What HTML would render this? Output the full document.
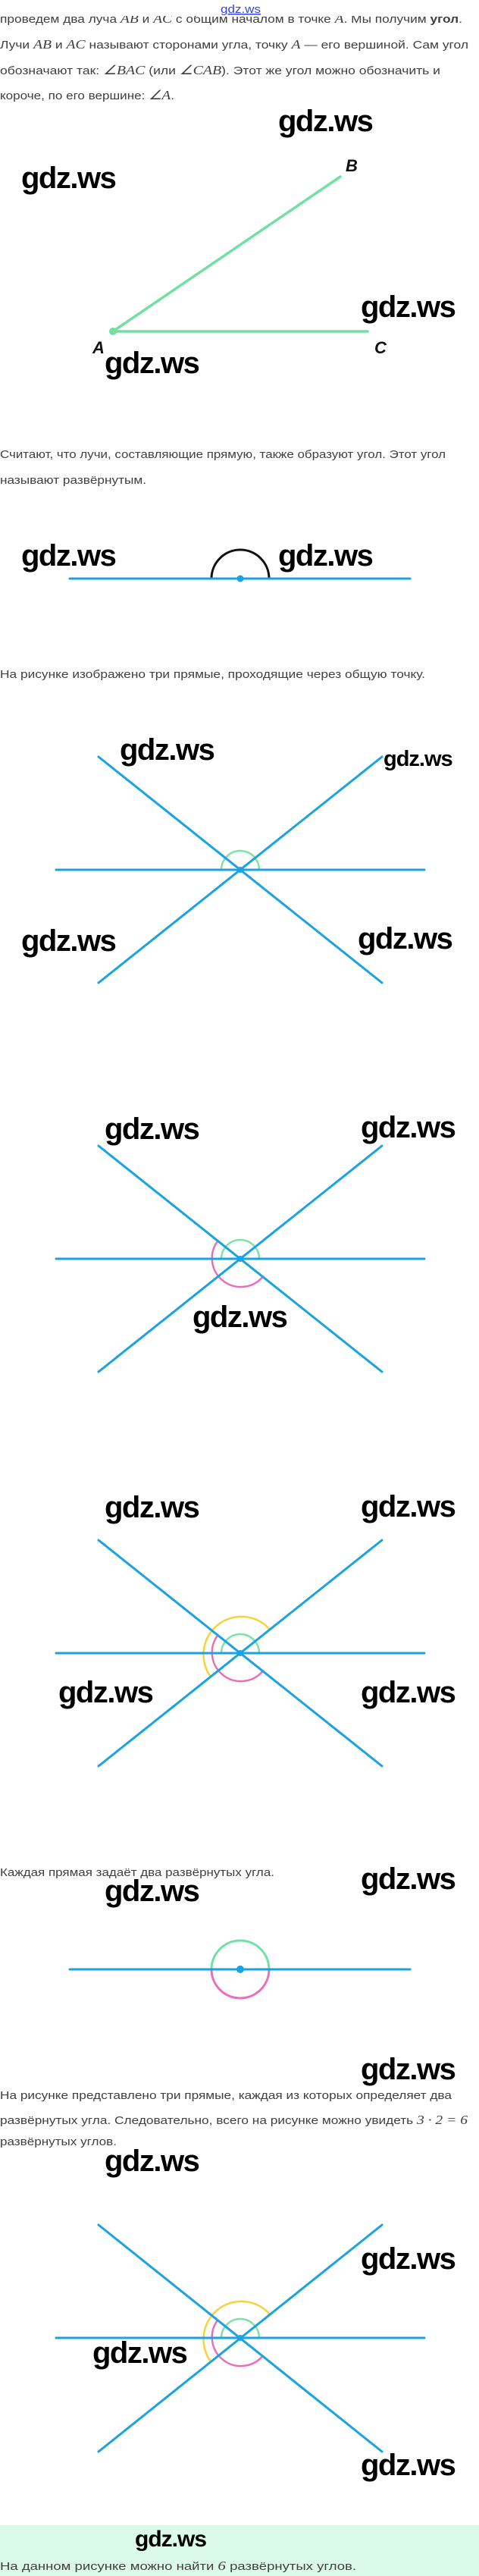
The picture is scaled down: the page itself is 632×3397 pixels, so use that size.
<!DOCTYPE html>
<html><head><meta charset="utf-8"><style>
html,body{margin:0;padding:0;background:#fff;}
svg{display:block;}
.t{font-family:"Liberation Sans",sans-serif;font-size:15px;fill:#404040;}
.m{font-family:"Liberation Serif",serif;font-style:italic;font-size:17px;}
.w{font-family:"Liberation Sans",sans-serif;font-weight:bold;font-size:40px;fill:#000;letter-spacing:-1.5px;}
.lb{font-family:"Liberation Sans",sans-serif;font-style:italic;font-weight:bold;font-size:22px;fill:#111;}
.bl{stroke:#1aa3e2;stroke-width:3;stroke-linecap:round;fill:none;}
</style></head><body>
<svg width="632" height="3397" viewBox="0 0 632 3397" xmlns="http://www.w3.org/2000/svg">
<rect width="632" height="3397" fill="#fff"/>
<text class="t" x="0" y="30" textLength="610" lengthAdjust="spacingAndGlyphs">проведем два луча <tspan class="m">AB</tspan> и <tspan class="m">AC</tspan> с общим началом в точке <tspan class="m">A</tspan>. Мы получим <tspan font-weight="bold">угол</tspan>.</text>
<rect x="0" y="0" width="632" height="21" fill="#fff"/>
<text x="291" y="17" font-family="Liberation Sans,sans-serif" font-size="15" fill="#3344dd" textLength="53" lengthAdjust="spacingAndGlyphs" text-decoration="underline">gdz.ws</text>
<text class="t" x="0" y="64" textLength="618" lengthAdjust="spacingAndGlyphs">Лучи <tspan class="m">AB</tspan> и <tspan class="m">AC</tspan> называют сторонами угла, точку <tspan class="m">A</tspan> — его вершиной. Сам угол</text>
<text class="t" x="0" y="98" textLength="581" lengthAdjust="spacingAndGlyphs">обозначают так: <tspan class="m">∠BAC</tspan> (или <tspan class="m">∠CAB</tspan>). Этот же угол можно обозначить и</text>
<text class="t" x="0" y="131" textLength="230" lengthAdjust="spacingAndGlyphs">короче, по его вершине: <tspan class="m">∠A</tspan>.</text>

<line x1="149" y1="437" x2="449" y2="233" stroke="#72e0a2" stroke-width="3.5" stroke-linecap="round"/>
<line x1="149" y1="437" x2="485" y2="437" stroke="#72e0a2" stroke-width="3.5" stroke-linecap="round"/>
<circle cx="149" cy="437" r="5" fill="#72e0a2"/>
<text class="lb" x="456" y="226">B</text>
<text class="lb" x="122" y="466">A</text>
<text class="lb" x="494" y="466">C</text>
<text class="w" x="367" y="173">gdz.ws</text>
<text class="w" x="28" y="248">gdz.ws</text>
<text class="w" x="476" y="418">gdz.ws</text>
<text class="w" x="138" y="492">gdz.ws</text>

<text class="t" x="0" y="604" textLength="588" lengthAdjust="spacingAndGlyphs">Считают, что лучи, составляющие прямую, также образуют угол. Этот угол</text>
<text class="t" x="0" y="638" textLength="193" lengthAdjust="spacingAndGlyphs">называют развёрнутым.</text>

<path d="M279 763 A38 38 0 0 1 355 763" stroke="#111" stroke-width="3" fill="none"/>
<line class="bl" x1="92" y1="763" x2="541" y2="763"/>
<circle cx="317" cy="763" r="4.5" fill="#1aa3e2"/>
<text class="w" x="28" y="746">gdz.ws</text>
<text class="w" x="367" y="746">gdz.ws</text>

<text class="t" x="0" y="894" textLength="561" lengthAdjust="spacingAndGlyphs">На рисунке изображено три прямые, проходящие через общую точку.</text>

<path d="M292 1147 A25 25 0 0 1 342 1147" stroke="#7de3a5" stroke-width="2.5" fill="none"/>
<line class="bl" x1="74" y1="1147" x2="560" y2="1147"/>
<line class="bl" x1="130" y1="998" x2="504" y2="1296"/>
<line class="bl" x1="130" y1="1296" x2="504" y2="998"/>
<circle cx="317" cy="1147" r="4" fill="#1aa3e2"/>
<text class="w" x="158" y="1002">gdz.ws</text>
<text class="w" x="506" y="1010" style="font-size:29px;letter-spacing:-1px">gdz.ws</text>
<text class="w" x="28" y="1254">gdz.ws</text>
<text class="w" x="472" y="1251">gdz.ws</text>

<path d="M292 1660 A25 25 0 0 1 342 1660" stroke="#7de3a5" stroke-width="2.5" fill="none"/>
<path d="M287.4 1636.2 A38 38 0 0 0 346.6 1683.8" stroke="#ec6fb5" stroke-width="2.5" fill="none"/>
<line class="bl" x1="74" y1="1660" x2="560" y2="1660"/>
<line class="bl" x1="130" y1="1511" x2="504" y2="1809"/>
<line class="bl" x1="130" y1="1809" x2="504" y2="1511"/>
<circle cx="317" cy="1660" r="4" fill="#1aa3e2"/>
<text class="w" x="138" y="1502">gdz.ws</text>
<text class="w" x="476" y="1500">gdz.ws</text>
<text class="w" x="254" y="1750">gdz.ws</text>

<path d="M292 2180 A25 25 0 0 1 342 2180" stroke="#7de3a5" stroke-width="2.5" fill="none"/>
<path d="M287.4 2156.2 A38 38 0 0 0 346.6 2203.8" stroke="#ec6fb5" stroke-width="2.5" fill="none"/>
<path d="M356 2148.8 A50 50 0 0 0 278 2211.2" stroke="#f5d33a" stroke-width="2.5" fill="none"/>
<line class="bl" x1="74" y1="2180" x2="560" y2="2180"/>
<line class="bl" x1="130" y1="2031" x2="504" y2="2329"/>
<line class="bl" x1="130" y1="2329" x2="504" y2="2031"/>
<circle cx="317" cy="2180" r="4" fill="#1aa3e2"/>
<text class="w" x="138" y="2001">gdz.ws</text>
<text class="w" x="476" y="2000">gdz.ws</text>
<text class="w" x="77" y="2245">gdz.ws</text>
<text class="w" x="476" y="2245">gdz.ws</text>

<text class="t" x="0" y="2474" textLength="362" lengthAdjust="spacingAndGlyphs">Каждая прямая задаёт два развёрнутых угла.</text>
<text class="w" x="138" y="2507">gdz.ws</text>
<text class="w" x="476" y="2491">gdz.ws</text>

<path d="M279 2597 A38 38 0 0 1 355 2597" stroke="#72e0a2" stroke-width="3" fill="none"/>
<path d="M279 2597 A38 38 0 0 0 355 2597" stroke="#ec6fb5" stroke-width="3" fill="none"/>
<line class="bl" x1="92" y1="2597" x2="541" y2="2597"/>
<circle cx="317" cy="2597" r="5" fill="#1aa3e2"/>

<text class="w" x="476" y="2742">gdz.ws</text>
<text class="t" x="0" y="2768" textLength="596" lengthAdjust="spacingAndGlyphs">На рисунке представлено три прямые, каждая из которых определяет два</text>
<text class="t" x="0" y="2801" textLength="617" lengthAdjust="spacingAndGlyphs">развёрнутых угла. Следовательно, всего на рисунке можно увидеть <tspan class="m" font-style="normal">3 · 2 = 6</tspan></text>
<text class="t" x="0" y="2829" textLength="154" lengthAdjust="spacingAndGlyphs">развёрнутых углов.</text>
<text class="w" x="138" y="2863">gdz.ws</text>

<path d="M292 3083 A25 25 0 0 1 342 3083" stroke="#7de3a5" stroke-width="2.5" fill="none"/>
<path d="M287.4 3059.2 A38 38 0 0 0 346.6 3106.8" stroke="#ec6fb5" stroke-width="2.5" fill="none"/>
<path d="M356 3051.8 A50 50 0 0 0 278 3114.2" stroke="#f5d33a" stroke-width="2.5" fill="none"/>
<line class="bl" x1="74" y1="3083" x2="560" y2="3083"/>
<line class="bl" x1="130" y1="2934" x2="504" y2="3233"/>
<line class="bl" x1="130" y1="3233" x2="504" y2="2934"/>
<circle cx="317" cy="3083" r="4" fill="#1aa3e2"/>
<text class="w" x="476" y="2992">gdz.ws</text>
<text class="w" x="122" y="3116">gdz.ws</text>
<text class="w" x="476" y="3264">gdz.ws</text>

<rect x="0" y="3330" width="632" height="67" fill="#dcfaea"/>
<text class="w" x="178" y="3358" style="font-size:30px;letter-spacing:-1px">gdz.ws</text>
<text class="t" x="0" y="3389" textLength="470" lengthAdjust="spacingAndGlyphs">На данном рисунке можно найти <tspan class="m" font-style="normal">6</tspan> развёрнутых углов.</text>
</svg>
</body></html>
